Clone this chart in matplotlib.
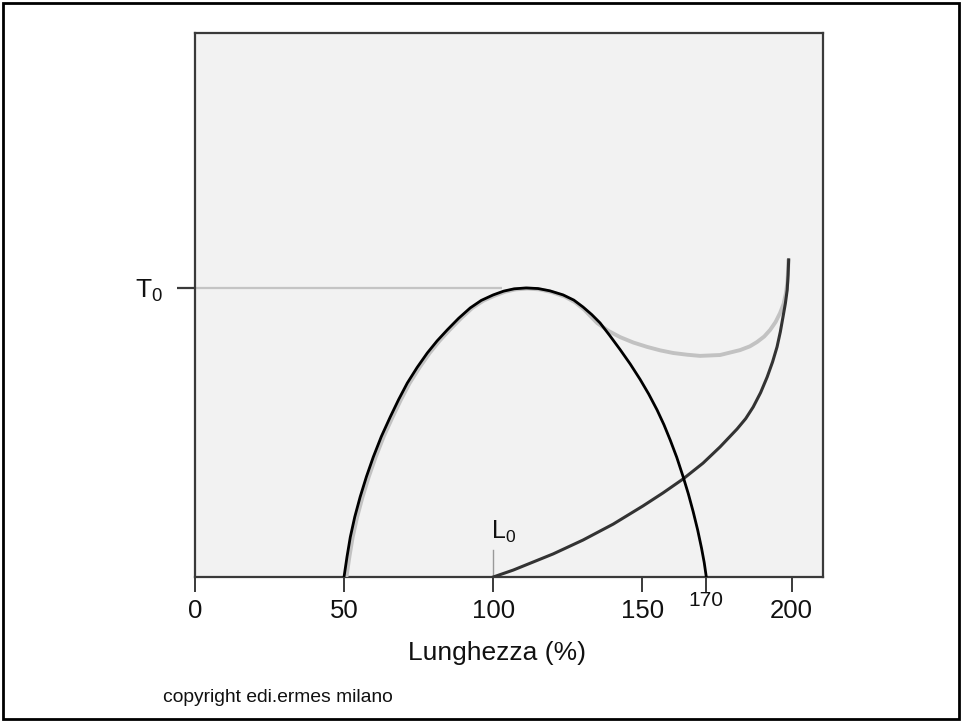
import matplotlib
matplotlib.use("Agg")
import matplotlib.pyplot as plt
from matplotlib.patches import Rectangle

plt.rcParams['font.family'] = ['Liberation Sans', 'DejaVu Sans']
plt.rcParams['mathtext.fontset'] = 'custom'
plt.rcParams['mathtext.rm'] = 'Liberation Sans'
plt.rcParams['mathtext.it'] = 'Liberation Sans'

# ---- data (length %, tension relative to T0) ----
active_x = [50, 51.0, 52.1, 53.6, 55.4, 57.5, 59.8, 62.5, 65.5, 68.3, 71.2, 74.5,
            77.9, 81.2, 84.6, 88.4, 92.3, 96.0, 100, 103.5, 107, 111, 115, 119,
            123.4, 127, 130.1, 133.0, 135.8, 139.0, 142.5, 145.9, 149.2, 152.1,
            154.9, 157.2, 159.3, 161.5, 163.6, 165.4, 167.0, 168.5, 169.8, 170.7,
            171.4]
active_y = [0, 0.07, 0.138, 0.208, 0.277, 0.347, 0.415, 0.486, 0.554, 0.614,
            0.671, 0.725, 0.775, 0.817, 0.855, 0.895, 0.931, 0.957, 0.976, 0.989,
            0.997, 1.0, 0.998, 0.990, 0.976, 0.958, 0.934, 0.908, 0.879, 0.836,
            0.787, 0.737, 0.684, 0.633, 0.578, 0.527, 0.474, 0.414, 0.348, 0.287,
            0.226, 0.163, 0.100, 0.050, 0]

total_x = [50.8, 51.8, 52.9, 54.4, 56.2, 58.3, 60.6, 63.3, 66.3, 69.1, 72.0, 75.3,
           78.7, 82.0, 85.4, 89.2, 93.0, 96.7, 100.6, 104, 107.5, 111.5, 115.5,
           119.5, 124, 127.5, 130.5, 134.8, 138.5, 142.5, 147, 151.6, 156,
           160.3, 165, 169.3, 176, 182.7, 186, 188.4, 190.8, 192.8, 194.6, 196.1,
           197.3, 198.1, 198.6, 198.8, 198.9]
total_y = [0, 0.07, 0.138, 0.208, 0.277, 0.347, 0.415, 0.486, 0.554, 0.614,
           0.671, 0.725, 0.775, 0.817, 0.855, 0.895, 0.931, 0.956, 0.974, 0.987,
           0.995, 0.998, 0.995, 0.986, 0.970, 0.950, 0.925, 0.879, 0.852, 0.830,
           0.811, 0.796, 0.784, 0.775, 0.769, 0.765, 0.768, 0.785, 0.798, 0.813,
           0.832, 0.855, 0.882, 0.913, 0.945, 0.983, 1.022, 1.062, 1.097]

passive_x = [100, 106.7, 113.4, 120.1, 130.1, 140.2, 150.2, 156.9, 163.6, 170.3,
             176.0, 181.7, 184.6, 187.1, 189.6, 191.8, 193.6, 195.1, 196.2, 197.1,
             197.9, 198.5, 198.8, 199.0]
passive_y = [0, 0.024, 0.052, 0.080, 0.128, 0.183, 0.246, 0.291, 0.339, 0.394,
             0.450, 0.512, 0.548, 0.588, 0.638, 0.692, 0.744, 0.796, 0.848, 0.900,
             0.947, 0.993, 1.045, 1.097]

xticks = [0, 50, 100, 150, 200]
xtick_labels = ['0', '50', '100', '150', '200']
extra_tick_pos = 171.3
extra_tick_label = '170'
T0 = 1.0
L0 = 100

fig = plt.figure(figsize=(9.62, 7.22), dpi=100)
fig.patch.set_facecolor('white')
fig.patches.append(Rectangle((0.003, 0.004), 0.994, 0.992, transform=fig.transFigure,
                             fill=False, edgecolor='black', linewidth=2.0))

ax = fig.add_axes([0.2025, 0.2008, 0.653, 0.7535])
ax.set_facecolor('#f2f2f2')
ax.set_xlim(0, 210.5)
ax.set_ylim(0, 1.882)

# reference lines
ax.plot([0, 103], [T0, T0], color='#c4c4c4', lw=1.6, solid_capstyle='butt', zorder=2)
ax.plot([L0, L0], [0, 0.093], color='#999999', lw=1.0, zorder=2)

ax.plot(total_x, total_y, color='#c2c2c2', lw=2.8, solid_joinstyle='round',
        solid_capstyle='round', zorder=3)
ax.plot(passive_x, passive_y, color='#333333', lw=2.2, solid_joinstyle='round',
        zorder=4)
ax.plot(active_x, active_y, color='#000000', lw=2.0, solid_joinstyle='round',
        zorder=5)

for s in ax.spines.values():
    s.set_color('#3a3a3a')
    s.set_linewidth(1.6)

ax.set_xticks(xticks + [extra_tick_pos])
ax.set_xticklabels(xtick_labels + [''])
ax.tick_params(axis='x', direction='out', length=11, width=1.4, color='#3a3a3a',
               labelsize=18.5, pad=5, labelcolor='#111111')
ax.set_yticks([T0])
ax.set_yticklabels([r'$\mathregular{T_0}$'])
ax.tick_params(axis='y', direction='out', length=13, width=1.6, color='#3a3a3a',
               labelsize=19, pad=10, labelcolor='#111111')

ax.text(extra_tick_pos, -0.05, extra_tick_label, ha='center', va='top', fontsize=15,
        color='#111111', clip_on=False)
ax.text(L0 - 0.8, 0.11, r'$\mathregular{L_0}$', ha='left', va='bottom', fontsize=18,
        color='#111111')

ax.set_xlabel('Lunghezza (%)', fontsize=19, color='#111111')
ax.xaxis.set_label_coords(0.4817, -0.117)

fig.text(163 / 962, 1 - 697 / 722, 'copyright edi.ermes milano', fontsize=13.9,
         ha='left', va='center', color='#111111')

fig.savefig('out.png', dpi=100)
